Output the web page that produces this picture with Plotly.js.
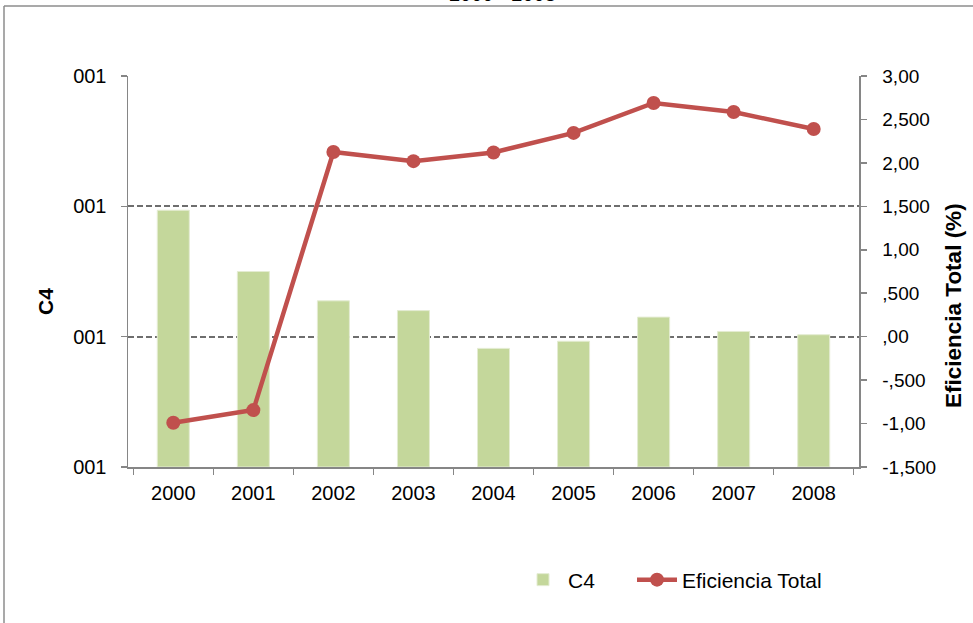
<!DOCTYPE html>
<html>
<head>
<meta charset="utf-8">
<script src="https://cdn.plot.ly/plotly-3.0.1.min.js"></script>
<style>
html,body{margin:0;padding:0;background:#fff;}
#chart{width:973px;height:623px;}
</style>
</head>
<body>
<div id="chart"></div>
<script>
var years = ["2000","2001","2002","2003","2004","2005","2006","2007","2008"];
var c4Values = [1.97, 1.50, 1.275, 1.20, 0.91, 0.965, 1.15, 1.04, 1.015];
var eficienciaValues = [-0.99, -0.845, 2.125, 2.02, 2.12, 2.345, 2.69, 2.585, 2.39];
var leftTickVals = [0, 1, 2, 3];
var leftTickText = ["001", "001", "001", "001"];
var rightTickVals = [-1.5, -1.0, -0.5, 0, 0.5, 1.0, 1.5, 2.0, 2.5, 3.0];
var rightTickText = ["-1,500", "-1,00", "-,500", ",00", ",500", "1,00", "1,500", "2,00", "2,500", "3,00"];
var titleText = "2000 - 2008";
var leftTitle = "C4";
var rightTitle = "Eficiencia Total (%)";

var font = "Liberation Sans, Arial, sans-serif";
var axisGray = "#868686";

var traces = [
  {
    type: "bar", name: "C4", x: years, y: c4Values,
    marker: {color: "#C4D79B", line: {color: "#E4ECD2", width: 1}},
    yaxis: "y", legend: "legend"
  },
  {
    type: "scatter", mode: "lines+markers", name: "Eficiencia Total",
    x: years, y: eficienciaValues, yaxis: "y2", legend: "legend2",
    line: {color: "#C0504D", width: 4.5},
    marker: {color: "#C0504D", size: 14}
  }
];

var L = 128, R = 859, T = 76, B = 467;
var W = R - L, H = B - T;
function px(x){ return (x - L) / W; }
function py(y){ return (B - y) / H; }

var legendFont = {family: font, size: 21, color: "#000"};

var layout = {
  width: 973, height: 623,
  margin: {l: L, r: 973 - R, t: T, b: 623 - B},
  paper_bgcolor: "#fff", plot_bgcolor: "#fff",
  font: {family: font, size: 20, color: "#000"},
  bargap: 0.6,
  showlegend: true,
  legend: {orientation: "h", x: px(518), y: py(580), xanchor: "left", yanchor: "middle",
           font: legendFont, itemwidth: 40, bgcolor: "rgba(0,0,0,0)"},
  legend2: {orientation: "h", x: px(632), y: py(580), xanchor: "left", yanchor: "middle",
           font: legendFont, itemwidth: 40, bgcolor: "rgba(0,0,0,0)"},
  xaxis: {
    type: "category", showline: true, linecolor: axisGray, linewidth: 1.5,
    ticks: "outside", tickson: "boundaries", ticklen: 6, tickcolor: axisGray, tickwidth: 1.5,
    showgrid: false, tickfont: {family: font, size: 20}, ticklabelstandoff: 7
  },
  yaxis: {
    range: [0, 3], tickvals: leftTickVals, ticktext: leftTickText,
    showline: true, linecolor: axisGray, linewidth: 1.5,
    ticks: "outside", ticklen: 6, tickcolor: axisGray, tickwidth: 1.5,
    showgrid: true, gridcolor: "#6e6e6e", gridwidth: 1.7, griddash: "6px,3px",
    zeroline: false, tickfont: {family: font, size: 20}, ticklabelstandoff: 10
  },
  yaxis2: {
    overlaying: "y", side: "right", range: [-1.5, 3],
    tickvals: rightTickVals, ticktext: rightTickText,
    showline: true, linecolor: axisGray, linewidth: 1.5,
    ticks: "outside", ticklen: 6, tickcolor: axisGray, tickwidth: 1.5,
    showgrid: false, zeroline: false, tickfont: {family: font, size: 19}, ticklabelstandoff: 12
  },
  shapes: [
    {type: "line", xref: "paper", yref: "paper", x0: px(4), x1: px(973), y0: py(6), y1: py(6),
     line: {color: "#8c8c8c", width: 1.5}},
    {type: "line", xref: "paper", yref: "paper", x0: px(4), x1: px(4), y0: py(6), y1: py(630),
     line: {color: "#8c8c8c", width: 1.5}}
  ],
  annotations: [
    {xref: "paper", yref: "paper", x: px(503), y: py(6.8), xanchor: "center", yanchor: "bottom",
     text: titleText, showarrow: false, font: {family: font, size: 20, color: "#000"}},
    {xref: "paper", yref: "paper", x: px(45), y: py(302), xanchor: "center", yanchor: "middle",
     textangle: -90, text: "<b>" + leftTitle + "</b>", showarrow: false,
     font: {family: font, size: 21, color: "#000"}},
    {xref: "paper", yref: "paper", x: px(953), y: py(305), xanchor: "center", yanchor: "middle",
     textangle: -90, text: "<b>" + rightTitle + "</b>", showarrow: false,
     font: {family: font, size: 22.5, color: "#000"}}
  ]
};

Plotly.newPlot("chart", traces, layout, {displayModeBar: false, staticPlot: true});
</script>
</body>
</html>
